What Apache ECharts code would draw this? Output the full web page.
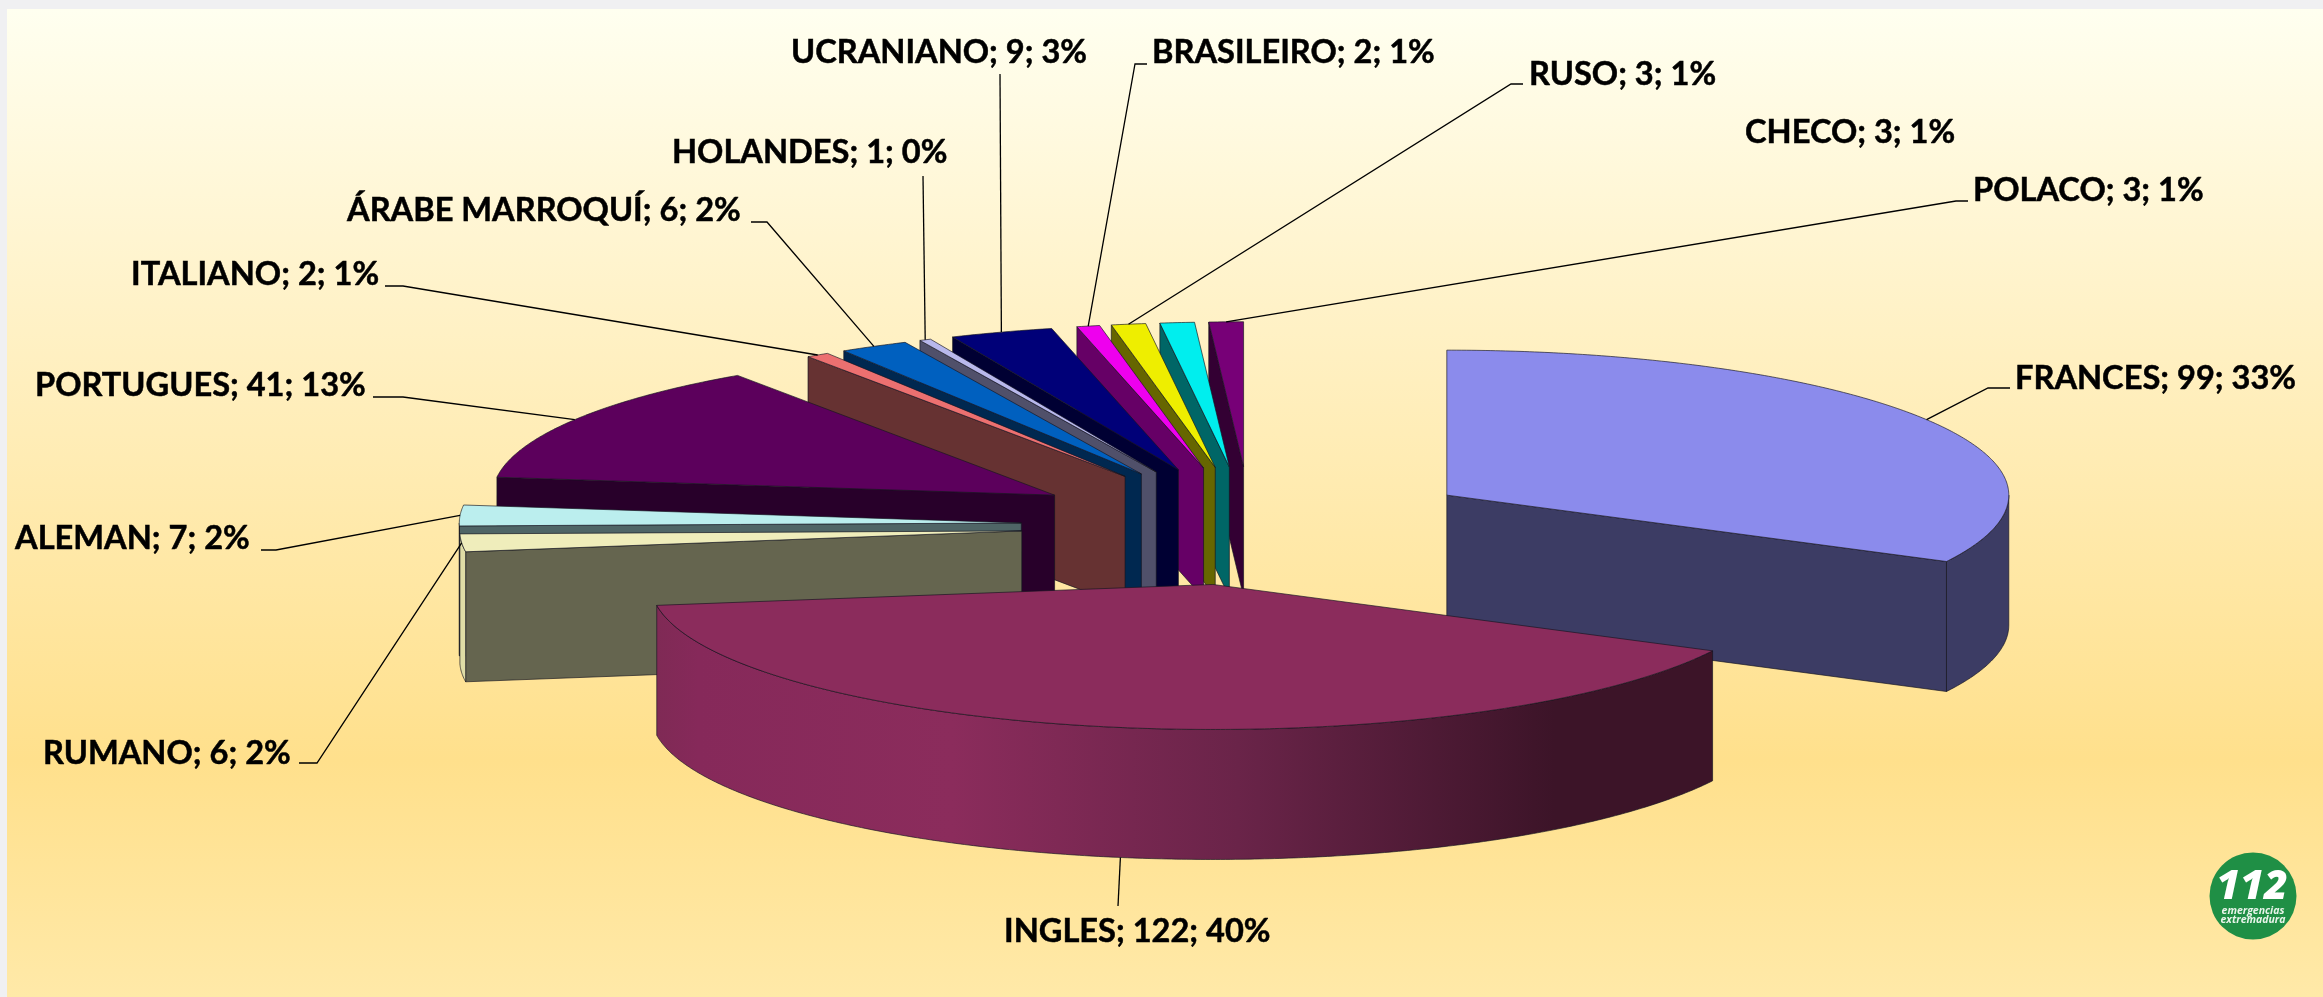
<!DOCTYPE html>
<html><head><meta charset="utf-8">
<style>html,body{margin:0;padding:0;background:#f0f0f2}#c{width:2323px;height:997px}</style>
<script src="https://cdn.jsdelivr.net/npm/echarts@6/dist/echarts.min.js"></script>
</head><body><div id="c"></div>
<script>
// ---- data, clockwise from 12 o'clock
const categories = ['FRANCES','INGLES','RUMANO','ALEMAN','PORTUGUES','ITALIANO','ÁRABE MARROQUÍ','HOLANDES','UCRANIANO','BRASILEIRO','RUSO','CHECO','POLACO'];
const values = [99,122,6,7,41,2,6,1,9,2,3,3,3];
const percents = [33,40,2,2,13,1,2,0,3,1,1,1,1];
// ---- colours
const topColors = ['#8b8bec','#8b2c5c','#efedbb','#bbeeee','#5c005c','#ec7070','#0060bf','#b8b8ec','#000078','#ee00ee','#eeee00','#00eeee','#770077'];
const sideColors = ['#3c3c64','#3c1428','#65654f','#4f6566','#28002a','#663232','#002850','#50506a','#000033','#660066','#666600','#006666','#330033'];
const wallColors = ['#3c3c64',null,'#dfdda6','#4f6566','#28002a','#663232','#002850','#50506a','#000033','#660066','#666600','#006666','#330033'];
// ---- label layout: text left, text centre y, elbow points toward the label
const labelLayout = [
 {x:2015,y:378,path:[[1988,388],[2010,388]]},
 {x:1004,y:931,path:[[1118,906]]},
 {x:43,y:753,path:[[317,763],[299,763]]},
 {x:15,y:538,path:[[276,550],[261,550]]},
 {x:35,y:385,path:[[403,397],[373,397]]},
 {x:131,y:274,path:[[403,286],[385,286]]},
 {x:347,y:210,path:[[767,222],[751,222]]},
 {x:672,y:152,path:[[923,176]]},
 {x:791,y:52,path:[[1000,74]]},
 {x:1152,y:52,path:[[1135,64],[1147,64]]},
 {x:1529,y:74,path:[[1511,84],[1523,84]]},
 {x:1745,y:132,path:null},
 {x:1973,y:190,path:[[1956,201],[1968,201]]}
];
// ---- projection parameters of the tilted, exploded pie
const CX=1250.7, CY=526, RX=562, RY=145, DEPTH=130, EXPLODE=229.7;
const total = values.reduce((a,b)=>a+b,0);
const slices=[]; let acc=0;
values.forEach((v,i)=>{const s=acc/total*360; acc+=v; const e=acc/total*360; const m=(s+e)/2*Math.PI/180;
  slices.push({s,e,mid:(s+e)/2,cx:CX+EXPLODE*Math.sin(m),cy:CY-EXPLODE*RY/RX*Math.cos(m)});});
const depthOrder=slices.map((s,i)=>i).sort((a,b)=>slices[a].cy-slices[b].cy);
function rim(sl,deg,dy){const t=deg*Math.PI/180;return [sl.cx+RX*Math.sin(t),sl.cy-RY*Math.cos(t)+(dy||0)];}
function arc(sl,a,b,dy){const p=[];const n=Math.max(2,Math.ceil(Math.abs(b-a)*2));for(let k=0;k<=n;k++)p.push(rim(sl,a+(b-a)*k/n,dy));return p;}
const edge={stroke:'rgba(20,20,30,0.65)',lineWidth:1};
function renderSlice(params){
  const i=params.dataIndex, sl=slices[i], rank=depthOrder.indexOf(i)*10, ch=[];
  const poly=(points,fill,z)=>ch.push({type:'polygon',shape:{points},style:Object.assign({fill},edge),z2:rank+z,silent:true});
  const apex=[sl.cx,sl.cy], apexB=[sl.cx,sl.cy+DEPTH];
  if(sl.s>180&&sl.s<360){const r=rim(sl,sl.s);poly([r,apex,apexB,[r[0],r[1]+DEPTH]],sideColors[i],0);}
  if(sl.e>0&&sl.e<180){const r=rim(sl,sl.e);poly([r,apex,apexB,[r[0],r[1]+DEPTH]],sideColors[i],0);}
  const a=Math.max(sl.s,90), b=Math.min(sl.e,270);
  if(b>a){
    let fill=wallColors[i];
    if(categories[i]==='INGLES') fill=new echarts.graphic.LinearGradient(0,0,1,0,[
      {offset:0,color:'#7f2a55'},{offset:0.04,color:'#86295a'},{offset:0.28,color:'#8b2c5c'},{offset:0.55,color:'#6a2449'},{offset:0.85,color:'#3c1428'},{offset:1,color:'#3c1428'}]);
    poly(arc(sl,a,b,0).concat(arc(sl,b,a,DEPTH)),fill,1);
  }
  poly([apex].concat(arc(sl,sl.s,sl.e,0)),topColors[i],2);
  return {type:'group',children:ch};
}
function renderLabel(params){
  const i=params.dataIndex, sl=slices[i], L=labelLayout[i], ch=[];
  if(L.path){
    const start=rim(sl,sl.mid);
    const mid = sl.mid>100&&sl.mid<260 ? [start[0],start[1]+DEPTH] : start;
    ch.push({type:'polyline',shape:{points:[mid].concat(L.path)},style:{stroke:'#000',lineWidth:1.3,fill:null},silent:true});
  }
  ch.push({type:'text',x:L.x,y:L.y,silent:true,style:{text:categories[i]+'; '+values[i]+'; '+percents[i]+'%',
    font:'bold 32.6px Lato, Carlito, sans-serif',fill:'#000',stroke:'#000',lineWidth:0.5,textAlign:'left',textVerticalAlign:'middle',align:'left',verticalAlign:'middle'}});
  return {type:'group',children:ch};
}
const seriesData=categories.map((n,i)=>({name:n,value:values[i]}));
const chart=echarts.init(document.getElementById('c'),null,{renderer:'canvas'});
const center={textAlign:'center',textVerticalAlign:'middle',align:'center',verticalAlign:'middle'};
chart.setOption({
  animation:false,
  backgroundColor:'#f0f0f2',
  tooltip:{show:false},
  graphic:[
   {type:'rect',z:-10,silent:true,shape:{x:7,y:9,width:2316,height:988},
    style:{fill:new echarts.graphic.LinearGradient(0,0,0,1,[{offset:0,color:'#fffff0'},{offset:0.3,color:'#fff2c8'},{offset:0.76,color:'#ffe08c'},{offset:1,color:'#ffe9a8'}])}},
   {type:'group',z:20,silent:true,children:[
     {type:'circle',shape:{cx:2253,cy:896,r:43.5},style:{fill:'#1f8f45'}},
     {type:'text',x:2252,y:887,style:Object.assign({text:'112',font:'italic 800 41px "Open Sans", Lato, sans-serif',fill:'#fff'},center)},
     {type:'text',x:2253,y:911,style:Object.assign({text:'emergencias',font:'italic bold 10.5px "Open Sans", sans-serif',fill:'#e8f4ea'},center)},
     {type:'text',x:2253,y:920,style:Object.assign({text:'extremadura',font:'italic bold 10.5px "Open Sans", sans-serif',fill:'#e8f4ea'},center)}
   ]}
  ],
  series:[
   {type:'custom',name:'Idiomas',coordinateSystem:'none',silent:true,z:2,data:seriesData,renderItem:renderSlice},
   {type:'custom',name:'Etiquetas',coordinateSystem:'none',silent:true,z:3,data:seriesData,renderItem:renderLabel}
  ]
});
</script></body></html>
